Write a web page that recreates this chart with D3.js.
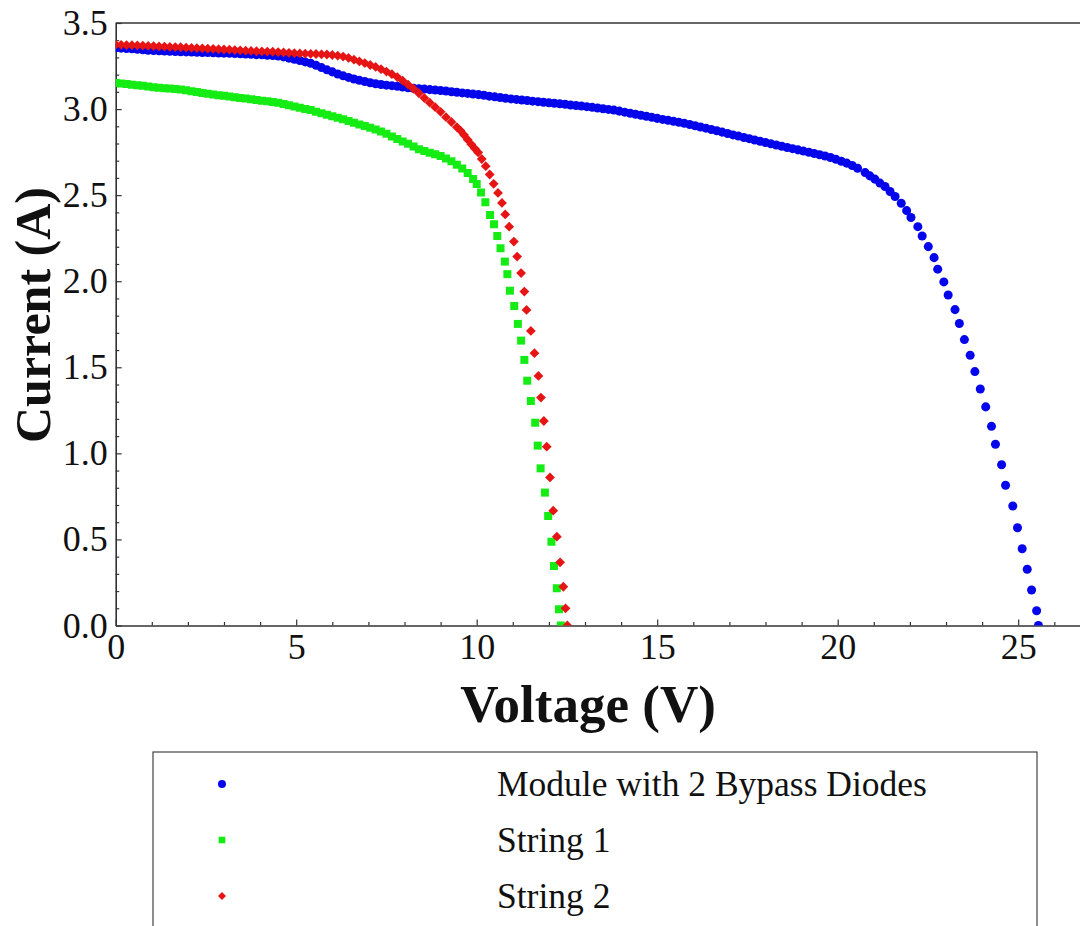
<!DOCTYPE html>
<html>
<head>
<meta charset="utf-8">
<script src="https://cdn.jsdelivr.net/npm/d3@7"></script>
<style>
  html, body { margin: 0; padding: 0; background: #fff; }
  svg { display: block; }
  text { font-family: "Liberation Serif", "Times New Roman", serif; fill: #111; }
</style>
</head>
<body>
<svg id="chart" width="1080" height="926"></svg>
<script>
// ---------- data (Voltage V, Current A) ----------
const moduleBypass = [
  [0.00,3.356],[0.15,3.354],[0.30,3.352],[0.45,3.350],[0.60,3.347],[0.75,3.344],[0.90,3.342],[1.05,3.340],
  [1.20,3.339],[1.35,3.337],[1.50,3.336],[1.65,3.334],[1.80,3.333],[1.95,3.332],[2.10,3.331],[2.25,3.330],
  [2.40,3.329],[2.55,3.328],[2.70,3.327],[2.85,3.326],[3.00,3.325],[3.15,3.324],[3.30,3.323],[3.45,3.321],
  [3.60,3.320],[3.75,3.318],[3.90,3.316],[4.05,3.315],[4.20,3.313],[4.35,3.311],[4.50,3.308],[4.65,3.303],
  [4.80,3.296],[4.95,3.289],[5.10,3.282],[5.25,3.274],[5.40,3.266],[5.55,3.254],[5.70,3.241],[5.85,3.228],
  [6.00,3.216],[6.15,3.204],[6.30,3.193],[6.45,3.184],[6.60,3.175],[6.75,3.167],[6.90,3.160],[7.05,3.153],
  [7.20,3.147],[7.35,3.143],[7.50,3.139],[7.65,3.136],[7.80,3.132],[7.95,3.128],[8.10,3.124],[8.25,3.121],
  [8.40,3.118],[8.55,3.116],[8.70,3.113],[8.85,3.111],[9.00,3.108],[9.15,3.105],[9.30,3.101],[9.45,3.098],
  [9.60,3.094],[9.75,3.091],[9.90,3.087],[10.05,3.084],[10.20,3.080],[10.35,3.075],[10.50,3.071],[10.65,3.067],
  [10.80,3.063],[10.95,3.059],[11.10,3.056],[11.25,3.053],[11.40,3.050],[11.55,3.046],[11.70,3.043],[11.85,3.040],
  [12.00,3.037],[12.15,3.034],[12.30,3.031],[12.45,3.028],[12.60,3.024],[12.75,3.021],[12.90,3.018],[13.05,3.014],
  [13.20,3.010],[13.35,3.006],[13.50,3.002],[13.65,2.998],[13.80,2.994],[13.95,2.988],[14.10,2.982],[14.25,2.976],
  [14.40,2.970],[14.55,2.964],[14.70,2.958],[14.85,2.952],[15.00,2.946],[15.15,2.940],[15.30,2.935],[15.45,2.929],
  [15.60,2.923],[15.75,2.917],[15.90,2.910],[16.05,2.903],[16.20,2.896],[16.35,2.889],[16.50,2.881],[16.65,2.874],
  [16.80,2.866],[16.95,2.858],[17.10,2.850],[17.25,2.843],[17.40,2.835],[17.55,2.828],[17.70,2.820],[17.85,2.813],
  [18.00,2.806],[18.15,2.798],[18.30,2.791],[18.45,2.784],[18.60,2.777],[18.75,2.770],[18.90,2.763],[19.05,2.756],
  [19.20,2.749],[19.35,2.742],[19.50,2.735],[19.65,2.727],[19.80,2.719],[19.95,2.708],[20.10,2.697],[20.25,2.686],
  [20.40,2.672],[20.55,2.656],[20.76,2.631],[20.89,2.612],[21.03,2.593],[21.17,2.570],[21.31,2.550],[21.45,2.521],
  [21.59,2.492],[21.76,2.453],[21.91,2.410],[22.03,2.370],[22.22,2.317],[22.34,2.263],[22.51,2.201],[22.67,2.137],
  [22.77,2.070],[22.94,1.996],[23.06,1.920],[23.25,1.835],[23.37,1.754],[23.51,1.661],[23.67,1.570],[23.80,1.475],
  [23.95,1.374],[24.10,1.270],[24.26,1.157],[24.37,1.053],[24.54,0.934],[24.65,0.815],[24.85,0.694],[24.98,0.568],
  [25.11,0.446],[25.25,0.327],[25.37,0.206],[25.51,0.086],[25.56,0.000]
];

const string1 = [
  [0.00,3.151],[0.15,3.148],[0.30,3.145],[0.45,3.141],[0.60,3.138],[0.75,3.135],[0.90,3.131],[1.05,3.127],
  [1.20,3.124],[1.35,3.121],[1.50,3.119],[1.65,3.116],[1.80,3.113],[1.95,3.109],[2.10,3.104],[2.25,3.099],
  [2.40,3.094],[2.55,3.089],[2.70,3.085],[2.85,3.081],[3.00,3.077],[3.15,3.073],[3.30,3.069],[3.45,3.065],
  [3.60,3.061],[3.75,3.057],[3.90,3.053],[4.05,3.049],[4.20,3.045],[4.35,3.041],[4.50,3.036],[4.65,3.029],
  [4.80,3.022],[4.95,3.015],[5.10,3.008],[5.25,3.001],[5.40,2.994],[5.55,2.985],[5.70,2.976],[5.85,2.967],
  [6.00,2.958],[6.15,2.950],[6.30,2.941],[6.45,2.931],[6.60,2.921],[6.75,2.911],[6.90,2.901],[7.05,2.891],
  [7.20,2.881],[7.35,2.869],[7.50,2.856],[7.65,2.841],[7.80,2.826],[7.95,2.812],[8.10,2.798],[8.25,2.783],
  [8.40,2.767],[8.55,2.756],[8.70,2.746],[8.85,2.737],[9.00,2.727],[9.15,2.713],[9.30,2.697],[9.45,2.677],
  [9.60,2.655],[9.75,2.628],[9.90,2.594],[10.00,2.565],[10.12,2.515],[10.24,2.458],[10.37,2.385],[10.48,2.331],
  [10.57,2.263],[10.66,2.192],[10.78,2.114],[10.85,2.041],[10.92,1.945],[11.04,1.856],[11.14,1.752],[11.23,1.655],
  [11.32,1.543],[11.40,1.422],[11.50,1.304],[11.62,1.178],[11.69,1.045],[11.77,0.913],[11.89,0.772],[11.98,0.636],
  [12.07,0.487],[12.14,0.346],[12.22,0.216],[12.28,0.094],[12.33,0.000]
];

const string2 = [
  [0.00,3.374],[0.15,3.373],[0.30,3.372],[0.45,3.371],[0.60,3.370],[0.75,3.369],[0.90,3.367],[1.05,3.366],
  [1.20,3.364],[1.35,3.363],[1.50,3.361],[1.65,3.360],[1.80,3.359],[1.95,3.357],[2.10,3.356],[2.25,3.354],
  [2.40,3.353],[2.55,3.351],[2.70,3.350],[2.85,3.348],[3.00,3.346],[3.15,3.345],[3.30,3.343],[3.45,3.341],
  [3.60,3.339],[3.75,3.338],[3.90,3.336],[4.05,3.335],[4.20,3.334],[4.35,3.333],[4.50,3.331],[4.65,3.329],
  [4.80,3.327],[4.95,3.325],[5.10,3.323],[5.25,3.322],[5.40,3.321],[5.55,3.320],[5.70,3.318],[5.85,3.317],
  [6.00,3.314],[6.15,3.310],[6.30,3.305],[6.45,3.297],[6.60,3.287],[6.75,3.277],[6.90,3.267],[7.05,3.256],
  [7.20,3.245],[7.35,3.232],[7.50,3.218],[7.65,3.203],[7.80,3.186],[7.95,3.165],[8.10,3.142],[8.25,3.118],
  [8.40,3.092],[8.55,3.064],[8.70,3.037],[8.85,3.011],[9.00,2.984],[9.15,2.953],[9.30,2.925],[9.45,2.895],
  [9.55,2.875],[9.65,2.850],[9.75,2.822],[9.85,2.795],[9.95,2.770],[10.04,2.748],[10.14,2.710],[10.25,2.668],
  [10.36,2.620],[10.47,2.566],[10.59,2.513],[10.70,2.455],[10.79,2.388],[10.90,2.317],[11.03,2.230],[11.12,2.143],
  [11.23,2.047],[11.32,1.940],[11.38,1.833],[11.50,1.711],[11.60,1.582],[11.71,1.450],[11.78,1.324],[11.86,1.188],
  [11.94,1.039],[12.03,0.860],[12.12,0.667],[12.22,0.516],[12.31,0.367],[12.40,0.225],[12.46,0.100],[12.51,0.000]
];

const seriesNames = ["Module with 2 Bypass Diodes", "String 1", "String 2"];
const seriesColors = ["#0505ec", "#14ec14", "#e61414"];
const xTickValues = [0, 5, 10, 15, 20, 25];
const yTickValues = [0.0, 0.5, 1.0, 1.5, 2.0, 2.5, 3.0, 3.5];
const xLabel = "Voltage (V)";
const yLabel = "Current (A)";

// ---------- layout ----------
const svg = d3.select("#chart");
const plotLeft = 115.7, plotTop = 23, plotBottom = 625.5;
const x = d3.scaleLinear().domain([0, 26.8]).range([plotLeft, plotLeft + 26.8 * 36.1]);
const y = d3.scaleLinear().domain([0, 3.5]).range([plotBottom, plotTop]);

svg.append("defs").append("clipPath").attr("id", "plotclip")
  .append("rect").attr("x", plotLeft).attr("y", plotTop).attr("width", 1080 - plotLeft).attr("height", plotBottom - plotTop);

const axisColor = "#333";

// minor ticks
const xMinor = d3.range(0, 27, 1).filter(v => !xTickValues.includes(v));
const yMinor = d3.range(0, 36, 1).map(v => v / 10).filter(v => Math.round(v * 10) % 5 !== 0);

svg.append("g").attr("transform", `translate(0,${plotBottom})`)
  .call(d3.axisBottom(x).tickValues(xMinor).tickSize(-3.5).tickSizeOuter(0).tickFormat(""))
  .call(g => g.select(".domain").remove())
  .call(g => g.selectAll("line").attr("stroke", axisColor).attr("stroke-width", 1.2));
svg.append("g").attr("transform", `translate(${plotLeft},0)`)
  .call(d3.axisLeft(y).tickValues(yMinor).tickSize(-3.5).tickSizeOuter(0).tickFormat(""))
  .call(g => g.select(".domain").remove())
  .call(g => g.selectAll("line").attr("stroke", axisColor).attr("stroke-width", 1.2));

// major axes
const gx = svg.append("g").attr("transform", `translate(0,${plotBottom})`)
  .call(d3.axisBottom(x).tickValues(xTickValues).tickSize(-6).tickSizeOuter(0).tickPadding(8).tickFormat(d3.format("d")));
const gy = svg.append("g").attr("transform", `translate(${plotLeft},0)`)
  .call(d3.axisLeft(y).tickValues(yTickValues).tickSize(-6).tickSizeOuter(0).tickPadding(8).tickFormat(d3.format(".1f")));
[gx, gy].forEach(g => {
  g.select(".domain").attr("stroke", axisColor).attr("stroke-width", 1.6);
  g.selectAll(".tick line").attr("stroke", axisColor).attr("stroke-width", 1.2);
  g.selectAll(".tick text").attr("font-family", "Liberation Serif").attr("font-size", 36).attr("fill", "#111");
});
// top frame line
svg.append("line").attr("x1", plotLeft).attr("x2", 1080).attr("y1", plotTop).attr("y2", plotTop)
  .attr("stroke", axisColor).attr("stroke-width", 1.6);

// axis titles
svg.append("text").attr("x", 588).attr("y", 722).attr("text-anchor", "middle")
  .attr("font-size", 53).attr("font-weight", "bold").text(xLabel);
svg.append("text").attr("transform", `translate(50,315) rotate(-90)`).attr("text-anchor", "middle")
  .attr("font-size", 50).attr("font-weight", "bold").text(yLabel);

// ---------- marks ----------
const plot = svg.append("g").attr("clip-path", "url(#plotclip)");
const symCircle = d3.symbol().type(d3.symbolCircle).size(64);
const symSquare = d3.symbol().type(d3.symbolSquare).size(64);
const symDiamond = d3.symbol().type(d3.symbolSquare).size(48);   // rotated 45° below
const symbols = [symCircle, symSquare, symDiamond];
const rotations = [0, 0, 45];
const allSeries = [moduleBypass, string1, string2];

allSeries.forEach((data, i) => {
  plot.append("g").selectAll("path").data(data).join("path")
    .attr("d", symbols[i]())
    .attr("transform", d => `translate(${x(d[0])},${y(d[1])}) rotate(${rotations[i]})`)
    .attr("fill", seriesColors[i]);
});

// ---------- legend ----------
const legend = svg.append("g");
legend.append("rect").attr("x", 153).attr("y", 752).attr("width", 884).attr("height", 200)
  .attr("fill", "none").attr("stroke", "#444").attr("stroke-width", 1.2);
const legendRows = [784, 840, 896];
const legendSymbols = [
  d3.symbol().type(d3.symbolCircle).size(50),
  d3.symbol().type(d3.symbolSquare).size(44),
  d3.symbol().type(d3.symbolSquare).size(32)
];
seriesNames.forEach((name, i) => {
  legend.append("path").attr("d", legendSymbols[i]())
    .attr("transform", `translate(222,${legendRows[i]}) rotate(${rotations[i]})`)
    .attr("fill", seriesColors[i]);
  legend.append("text").attr("x", 497).attr("y", legendRows[i] + 12).attr("font-size", 35.5).text(name);
});
</script>
</body>
</html>
